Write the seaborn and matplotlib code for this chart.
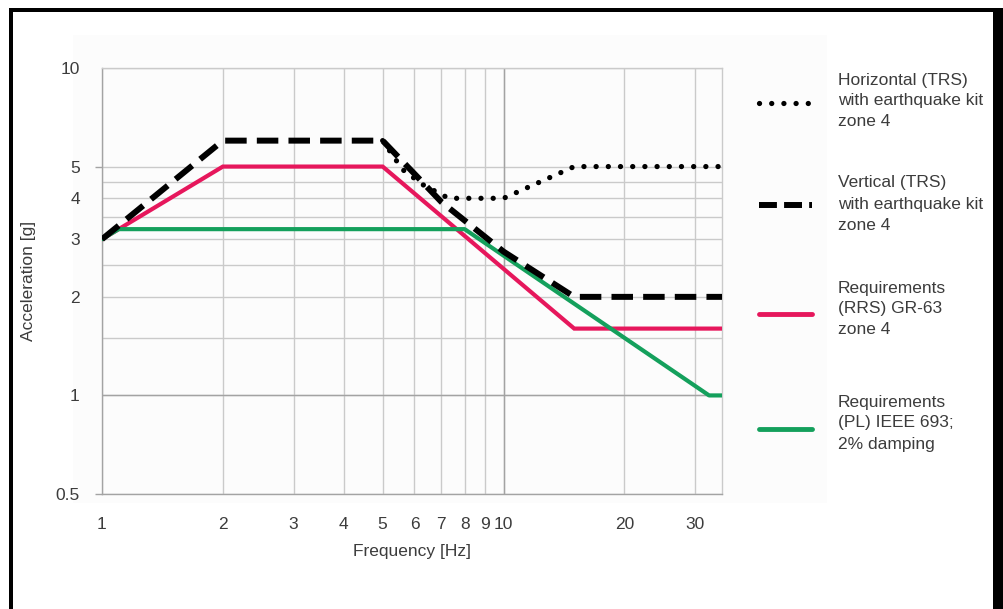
import numpy as np
import pandas as pd
import seaborn as sns
import matplotlib.pyplot as plt
from matplotlib.lines import Line2D
from matplotlib.patches import Rectangle
from matplotlib.ticker import FixedLocator, NullLocator
from matplotlib.transforms import IdentityTransform

# Response spectra (frequency in Hz, acceleration in g)
freq_horizontal = [5.0, 5.6, 6.3, 7.3, 10, 15, 35]
acc_horizontal = [6.0, 4.9, 4.4, 4.0, 4.0, 5.0, 5.0]

freq_vertical = [1, 2, 5, 7, 10, 15, 35]
acc_vertical = [3.0, 6.0, 6.0, 3.9, 2.75, 2.0, 2.0]

freq_rrs = [1, 2, 5, 15, 35]
acc_rrs = [3.0, 5.0, 5.0, 1.6, 1.6]

freq_pl = [1, 1.1, 8, 32.5, 35]
acc_pl = [3.0, 3.22, 3.22, 1.0, 1.0]

x_ticks = [1, 2, 3, 4, 5, 6, 7, 8, 9, 10, 20, 30]
y_ticks = [0.5, 1, 2, 3, 4, 5, 10]
y_minor = [1.5, 2.5, 3.5, 4.5]

labels = ["Horizontal (TRS)\nwith earthquake kit\nzone 4",
          "Vertical (TRS)\nwith earthquake kit\nzone 4",
          "Requirements\n(RRS) GR-63\nzone 4",
          "Requirements\n(PL) IEEE 693;\n2% damping"]

PINK = "#e6175c"
GREEN = "#14a05c"
GRID = "#cacaca"
DARK_GRID = "#a3a3a3"
TEXT = "#3c3c3c"
FS = 12.5

sns.set_theme(style="white")
plt.rcParams['font.family'] = ['Liberation Sans', 'DejaVu Sans']

W, H = 1004, 609
fig = plt.figure(figsize=(W / 100, H / 100), dpi=100)
fig.patch.set_facecolor("white")
ax = fig.add_axes([102 / W, 1 - 494 / H, 620 / W, 426 / H])
ax.set_facecolor("none")

# faint panel behind the chart and the black frame
px = IdentityTransform()
fig.add_artist(Rectangle((73, H - 503), 754, 468, transform=px,
                         facecolor="#fcfcfc", edgecolor="none", zorder=-5))
for rect in [(9, 0, 4, H - 8), (9, H - 12, W - 9, 4), (993, 0, 11, H - 8)]:
    fig.add_artist(Rectangle(rect[:2], rect[2], rect[3], transform=px,
                             facecolor="black", edgecolor="none", zorder=10))

# curves
sns.lineplot(x=freq_rrs, y=acc_rrs, ax=ax, color=PINK, linewidth=3.0,
             solid_joinstyle="miter", zorder=3)
sns.lineplot(x=freq_pl, y=acc_pl, ax=ax, color=GREEN, linewidth=3.0,
             solid_joinstyle="round", zorder=4)
sns.lineplot(x=freq_vertical, y=acc_vertical, ax=ax, color="black",
             linewidth=4.3, linestyle=(0, (3.6, 1.7)), zorder=5)
sns.lineplot(x=freq_horizontal, y=acc_horizontal, ax=ax, color="black",
             linewidth=3.8, linestyle=(0, (0.01, 2.3)),
             dash_capstyle="round", zorder=6)

ax.set_xscale("log")
ax.set_yscale("log")
ax.set_xlim(1, 35)
ax.set_ylim(0.5, 10)

ax.xaxis.set_major_locator(FixedLocator(x_ticks))
ax.xaxis.set_minor_locator(NullLocator())
ax.set_xticklabels([str(v) for v in x_ticks])
ax.yaxis.set_major_locator(FixedLocator(y_ticks))
ax.yaxis.set_minor_locator(FixedLocator(y_minor))
ax.set_yticklabels([f"{v:g}" for v in y_ticks])

ax.grid(True, which="both", color=GRID, linewidth=1.0, zorder=1)
ax.axvline(10, color=DARK_GRID, linewidth=1.0, zorder=1.5)
ax.axhline(1, color=DARK_GRID, linewidth=1.0, zorder=1.5)
ax.set_axisbelow(True)

ax.tick_params(axis="both", which="both", length=0, labelsize=FS,
               labelcolor=TEXT, left=True, bottom=True)
ax.tick_params(axis="x", pad=16.5)
ax.tick_params(axis="y", pad=16, color=DARK_GRID)
for i, tick in enumerate(ax.yaxis.get_major_ticks()):
    if y_ticks[i] in (0.5, 5):
        tick.tick1line.set_markersize(5)
        tick.tick1line.set_markeredgewidth(1.0)

for side, col in [("left", DARK_GRID), ("bottom", DARK_GRID),
                  ("top", GRID), ("right", GRID)]:
    ax.spines[side].set_visible(True)
    ax.spines[side].set_color(col)
    ax.spines[side].set_linewidth(1.0)

ax.set_xlabel("Frequency [Hz]", fontsize=FS, color=TEXT)
ax.set_ylabel("Acceleration [g]", fontsize=FS, color=TEXT)
ax.xaxis.set_label_coords(0.5, -0.118)
ax.yaxis.set_label_coords(-0.107, 0.5)

# legend drawn beside the axes
styles = [dict(color="black", lw=3.8, linestyle=(0, (0.01, 2.3)),
               dash_capstyle="round"),
          dict(color="black", lw=4.3, linestyle=(0, (3.0, 1.2))),
          dict(color=PINK, lw=3.5, solid_capstyle="round"),
          dict(color=GREEN, lw=3.5, solid_capstyle="round")]
line_y = [103, 205, 314, 429]
text_y = [101, 204, 309, 423]
for style, ly, ty, label in zip(styles, line_y, text_y, labels):
    fig.add_artist(Line2D([759, 812], [H - ly, H - ly], transform=px, **style))
    fig.text(838, H - ty, label, transform=px, va="center", ha="left",
             fontsize=FS, color=TEXT, linespacing=1.5)

fig.savefig("out.png", dpi=100)
